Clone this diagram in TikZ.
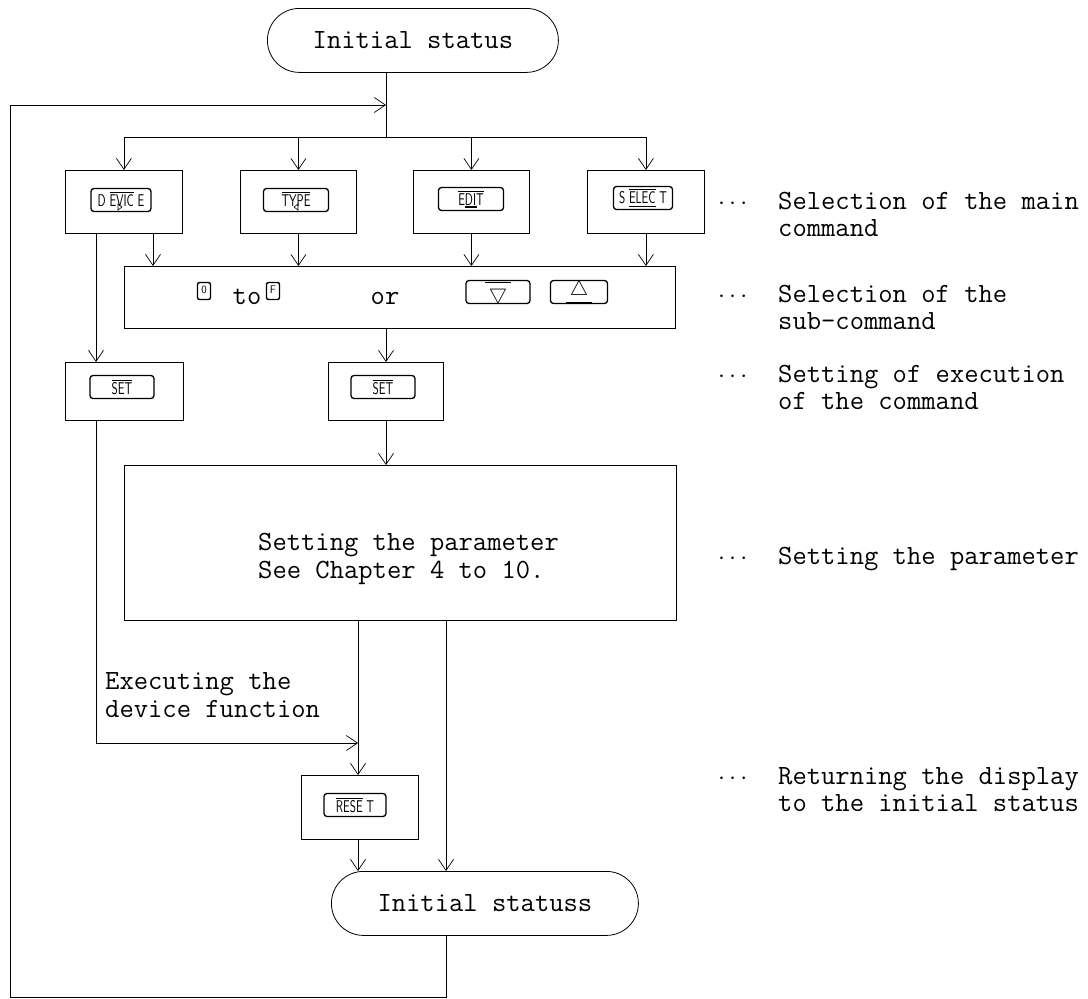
\documentclass[tikz,border=0pt]{standalone}
\usepackage{amsmath,amssymb,graphicx}
\usetikzlibrary{arrows.meta}
\newcommand{\kt}[1]{\scalebox{0.7}[1]{\fontsize{17}{17}\selectfont\sffamily #1}}
\newcommand{\ov}[1]{$\overline{\mbox{#1}}$}
\begin{document}
\begin{tikzpicture}[x=1pt,y=-1pt,
  every node/.style={font=\ttfamily\fontsize{27.8}{26}\selectfont},
  line/.style={line width=0.8pt},
  arr/.style={line width=0.8pt,-{Straight Barb[length=11pt,width=15pt,line width=0.7pt]}},
  box/.style={draw,line width=0.8pt,inner sep=0pt,anchor=north west},
  term/.style={draw,line width=0.8pt,rounded corners=32pt,inner sep=0pt,anchor=north west,minimum height=64pt},
  keycap/.style={draw,line width=1.3pt,rounded corners=3pt,inner sep=0pt,minimum height=23pt},
  smallkey/.style={draw,line width=1.4pt,rounded corners=2pt,inner sep=1pt,minimum width=13pt,minimum height=17pt,font=\sffamily\fontsize{11}{11}\selectfont},
  tri/.style={line width=0.6pt},
  txt/.style={anchor=base west,inner sep=0pt}
]
\useasboundingbox (0,0) rectangle (1088,999);
% columns and rows
\coordinate (xA) at (386,0);
\coordinate (xL) at (96,0);
\coordinate (xD2) at (153,0);
\coordinate (xR) at (358,0);
\coordinate (xR2) at (446,0);
\coordinate (xLoop) at (10,0);
\coordinate (yJ) at (0,137);
\coordinate (yLoop) at (0,105);
\coordinate (yExec) at (0,743);
\coordinate (yBot) at (0,997);

% terminals
\node[term,minimum width=291pt] (t1) at (267,8) {Initial status};
\node[term,minimum width=307pt] (t2) at (331,871) {Initial statuss};

% main command boxes
\node[box,minimum width=117pt,minimum height=63pt] (dev) at (65,170) {};
\node[box,minimum width=116pt,minimum height=63pt] (typ) at (240,170) {};
\node[box,minimum width=116pt,minimum height=63pt] (edt) at (413,170) {};
\node[box,minimum width=117pt,minimum height=63pt] (sel) at (587,170) {};
\node[keycap,minimum width=60pt] (kdev) at (121,200) {\kt{\raisebox{2pt}{D\ $\overline{\mbox{EVIC}}$\ E}}};
\draw[tri] (kdev.center) ++(-3,4) -- ++(0,6) -- ++(4,-3) -- cycle;
\node[keycap,minimum width=65pt] (ktyp) at (296,200) {\kt{\raisebox{2pt}{$\overline{\mbox{TYPE}}$}}};
\draw[tri] (ktyp.center) ++(2,4) -- ++(0,6) -- ++(-4,-3) -- cycle;
\node[keycap,minimum width=65pt] (kedt) at (471,199) {\kt{\raisebox{2pt}{$\overline{\mbox{EDIT}}$}}};
\draw[line width=1.2pt] (kedt.center) ++(-6,8) -- ++(12,0);
\node[keycap,minimum width=59pt] (ksel) at (643,198) {\kt{S\ $\underline{\overline{\mbox{ELEC}}}$\ T}};

% sub-command box
\node[box,minimum width=551pt,minimum height=62pt] (sub) at (124,266) {};
\node[smallkey,anchor=center] (k0) at (204,291) {\raisebox{3pt}{0}\hspace{3pt}};
\node[anchor=base,inner sep=0pt] (to) at (247,304) {to};
\node[smallkey,anchor=center] (kF) at (273,291) {\raisebox{3pt}{F}\hspace{3pt}};
\node[anchor=base,inner sep=0pt] (or) at (385,304) {or};
\node[keycap,minimum width=64pt] (kdn) at (498,292) {\fontsize{20}{20}\selectfont$\overline{\,\bigtriangledown\,}$};
\node[keycap,minimum width=57pt] (kup) at (579,292) {\fontsize{20}{20}\selectfont$\underline{\,\bigtriangleup\,}$};

% SET boxes
\node[box,minimum width=118pt,minimum height=58pt] (set1) at (65,362) {};
\node[box,minimum width=115pt,minimum height=58pt] (set2) at (328,362) {};
\node[keycap,minimum width=64pt] (kset1) at (122,387) {\kt{\ov{SET}}};
\node[keycap,minimum width=64pt] (kset2) at (383,387) {\kt{\ov{SET}}};

% parameter box
\node[box,minimum width=552pt,minimum height=155pt] (par) at (124,465) {};
\node[txt] (p1) at (258,550) {Setting the parameter};
\node[txt] (p2) at (258,578) {See Chapter 4 to 10.};

% executing text
\node[txt] (e1) at (105,689) {Executing the};
\node[txt] (e2) at (105,717) {device function};

% RESET box
\node[box,minimum width=117pt,minimum height=64pt] (rst) at (301,775) {};
\node[keycap,minimum width=62pt] (krst) at (355,805) {\kt{\ov{RESE}\ T}};

% annotations
\node[txt] (d1) at (718,209) {$\cdots$};
\node[txt] (a1) at (778,209) {Selection of the main};
\node[txt] (a1b) at (778,236) {command};
\node[txt] (d2) at (718,302) {$\cdots$};
\node[txt] (a2) at (778,302) {Selection of the};
\node[txt] (a2b) at (778,329) {sub-command};
\node[txt] (d3) at (718,382) {$\cdots$};
\node[txt] (a3) at (778,382) {Setting of execution};
\node[txt] (a3b) at (778,409) {of the command};
\node[txt] (d4) at (718,564) {$\cdots$};
\node[txt] (a4) at (778,564) {Setting the parameter};
\node[txt] (d5) at (718,784) {$\cdots$};
\node[txt] (a5) at (778,784) {Returning the display};
\node[txt] (a5b) at (778,811) {to the initial status};

% connectors
\draw[line] (t1.south -| xA) -- (xA |- yJ);
\draw[line] (yJ -| dev.north) -- (yJ -| sel.north);
\draw[arr] (yJ -| dev.north) -- (dev.north);
\draw[arr] (yJ -| typ.north) -- (typ.north);
\draw[arr] (yJ -| edt.north) -- (edt.north);
\draw[arr] (yJ -| sel.north) -- (sel.north);
\draw[arr] (dev.south -| xD2) -- (sub.north -| xD2);
\draw[arr] (typ.south) -- (sub.north -| typ.south);
\draw[arr] (edt.south) -- (sub.north -| edt.south);
\draw[arr] (sel.south) -- (sub.north -| sel.south);
\draw[arr] (dev.south -| xL) -- (set1.north -| xL);
\draw[arr] (sub.south -| xA) -- (set2.north -| xA);
\draw[arr] (set2.south -| xA) -- (par.north -| xA);
\draw[line] (set1.south -| xL) -- (xL |- yExec);
\draw[arr] (xL |- yExec) -- (xR |- yExec);
\draw[arr] (par.south -| xR) -- (rst.north -| xR);
\draw[arr] (rst.south -| xR) -- (t2.north -| xR);
\draw[arr] (par.south -| xR2) -- (t2.north -| xR2);
\draw[line] (t2.south -| xR2) -- (xR2 |- yBot) -- (xLoop |- yBot) -- (xLoop |- yLoop);
\draw[arr] (xLoop |- yLoop) -- (xA |- yLoop);
\end{tikzpicture}
\end{document}
